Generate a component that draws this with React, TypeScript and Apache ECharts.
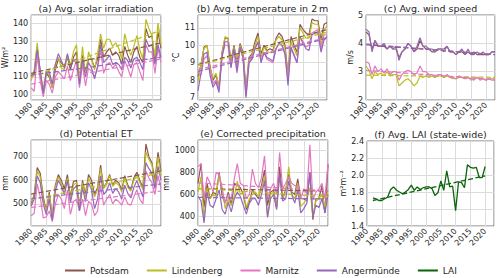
import React, { useEffect, useRef } from 'react';
import * as echarts from 'echarts';

const years = [1980, 1981, 1982, 1983, 1984, 1985, 1986, 1987, 1988, 1989, 1990, 1991, 1992, 1993, 1994, 1995, 1996, 1997, 1998, 1999, 2000, 2001, 2002, 2003, 2004, 2005, 2006, 2007, 2008, 2009, 2010, 2011, 2012, 2013, 2014, 2015, 2016, 2017, 2018, 2019, 2020, 2021, 2022, 2023];
const laiYears = [1982, 1983, 1984, 1985, 1986, 1987, 1988, 1989, 1990, 1991, 1992, 1993, 1994, 1995, 1996, 1997, 1998, 1999, 2000, 2001, 2002, 2003, 2004, 2005, 2006, 2007, 2008, 2009, 2010, 2011, 2012, 2013, 2014, 2015, 2016, 2017, 2018, 2019, 2020];
const trendYears = [1980, 2023];
const laiTrendYears = [1982, 2020];

const stations = ['Potsdam', 'Lindenberg', 'Marnitz', 'Angermünde'];
const stationColors = ['#8c564b', '#bcbd22', '#e377c2', '#9467bd'];
const laiColor = '#0a640a';

// (a) solar irradiation W/m²
const solarPotsdam = [110, 112, 127, 112, 101, 112, 110, 104, 114, 120, 118, 116, 121, 114, 121, 124, 109, 122, 113, 120, 120, 115, 120, 131, 121, 124, 126, 122, 124, 122, 117, 127, 122, 118, 124, 127, 121, 118, 137, 132, 133, 119, 135, 126];
const solarLindenberg = [108, 114, 129, 112, 103, 113, 111, 104, 117, 121, 115, 114, 122, 116, 124, 128, 108, 127, 110, 124, 120, 114, 123, 134, 126, 131, 131, 127, 129, 126, 120, 134, 127, 122, 127, 133, 125, 120, 142, 137, 133, 121, 140, 128];
const solarMarnitz = [104, 102, 122, 108, 99, 108, 106, 101, 110, 113, 111, 109, 116, 108, 114, 119, 104, 117, 105, 115, 113, 110, 115, 125, 112, 117, 118, 115, 117, 113, 110, 119, 115, 110, 117, 118, 113, 108, 128, 124, 124, 112, 126, 118];
const solarAngermuende = [111, 112, 125, 114, 101, 113, 113, 106, 117, 123, 119, 115, 123, 116, 119, 120, 106, 120, 110, 118, 115, 109, 116, 128, 118, 120, 122, 117, 118, 117, 114, 121, 119, 115, 120, 121, 118, 114, 131, 127, 128, 117, 128, 121];
const solarTrendStart = [112, 110, 106, 111];
const solarTrendEnd = [129, 136, 120, 121];

// (b) temperature °C
const tempPotsdam = [8.2, 8.9, 9.9, 10.0, 8.8, 8.0, 8.3, 7.6, 9.6, 10.4, 10.4, 9.1, 10.0, 9.0, 10.1, 9.6, 7.5, 9.3, 9.5, 10.2, 10.7, 9.5, 10.0, 9.7, 9.8, 9.7, 10.4, 10.7, 10.5, 10.0, 8.3, 10.5, 10.0, 9.6, 11.2, 10.9, 10.7, 10.6, 11.5, 11.4, 11.4, 10.3, 11.2, 11.3];
const tempLindenberg = [7.9, 8.9, 9.8, 10.0, 8.7, 8.1, 8.4, 7.6, 9.5, 10.5, 10.4, 9.0, 9.9, 8.8, 10.0, 9.5, 7.4, 9.2, 9.4, 10.0, 10.5, 9.3, 9.9, 9.6, 9.6, 9.6, 10.3, 10.5, 10.3, 9.8, 8.2, 10.2, 9.8, 9.4, 11.0, 10.7, 10.4, 10.4, 11.3, 11.2, 11.2, 10.0, 10.9, 11.1];
const tempMarnitz = [8.4, 8.3, 9.2, 9.4, 8.6, 7.8, 8.0, 7.5, 9.4, 10.0, 10.0, 8.8, 9.7, 8.4, 9.8, 9.3, 7.1, 9.0, 9.3, 9.8, 10.2, 9.1, 9.6, 9.2, 9.1, 9.0, 9.8, 10.1, 10.0, 9.5, 8.0, 9.8, 9.5, 9.0, 10.5, 10.2, 9.9, 10.0, 10.7, 10.8, 10.9, 9.8, 10.6, 10.6];
const tempAngermuende = [7.4, 8.4, 9.5, 9.6, 8.3, 7.6, 7.9, 7.3, 9.3, 10.2, 10.2, 8.7, 9.8, 8.5, 9.9, 9.3, 7.0, 9.0, 9.2, 9.8, 10.2, 9.0, 9.6, 9.3, 9.2, 9.1, 9.8, 10.1, 10.0, 9.5, 7.7, 9.9, 9.4, 9.0, 10.5, 10.1, 9.8, 9.7, 10.6, 10.7, 10.7, 9.6, 10.3, 10.5];
const tempTrendStart = [8.9, 8.85, 8.6, 8.5];
const tempTrendEnd = [10.9, 10.75, 10.45, 10.4];

// (c) wind speed m/s
const windPotsdam = [4.4, 4.3, 3.8, 4.1, 3.9, 3.9, 3.9, 3.8, 3.9, 3.8, 3.8, 3.5, 3.7, 3.8, 4.0, 3.9, 3.7, 3.8, 4.1, 3.9, 3.8, 3.8, 3.7, 3.7, 3.8, 3.8, 3.8, 3.9, 3.7, 3.7, 3.6, 3.7, 3.7, 3.6, 3.7, 3.6, 3.7, 3.6, 3.6, 3.6, 3.6, 3.6, 3.7, 3.7];
const windLindenberg = [3.2, 3.05, 2.75, 3.0, 2.9, 2.95, 2.85, 3.0, 2.85, 2.9, 2.9, 2.5, 2.6, 2.7, 2.75, 2.65, 2.5, 2.6, 2.85, 2.8, 2.85, 2.8, 2.85, 2.8, 2.85, 2.85, 2.8, 2.85, 2.8, 2.75, 2.75, 2.8, 2.8, 2.75, 2.8, 2.7, 2.75, 2.8, 2.75, 2.75, 2.7, 2.75, 2.75, 2.8];
const windMarnitz = [3.35, 3.3, 2.9, 3.2, 3.0, 3.1, 2.95, 3.1, 2.9, 3.0, 3.0, 2.7, 2.9, 3.0, 3.05, 3.0, 2.9, 2.95, 3.2, 3.0, 3.0, 2.9, 2.9, 2.8, 2.9, 2.9, 2.8, 2.9, 2.8, 2.8, 2.75, 2.85, 2.8, 2.75, 2.8, 2.75, 2.7, 2.8, 2.7, 2.75, 2.7, 2.75, 2.7, 2.7];
const windAngermuende = [4.5, 4.4, 3.7, 4.1, 3.9, 3.9, 4.0, 3.8, 3.9, 3.8, 3.9, 3.4, 3.7, 3.8, 4.0, 3.9, 3.7, 3.9, 4.2, 3.9, 3.9, 3.8, 3.8, 3.7, 3.8, 3.8, 3.7, 3.9, 3.7, 3.7, 3.6, 3.7, 3.8, 3.6, 3.8, 3.6, 3.6, 3.7, 3.6, 3.7, 3.6, 3.6, 3.7, 3.7];
const windTrendStart = [3.95, 2.88, 3.05, 3.97];
const windTrendEnd = [3.6, 2.8, 2.72, 3.6];

// (d) potential ET mm
const etPotsdam = [500, 540, 655, 630, 530, 470, 550, 440, 580, 625, 600, 565, 625, 530, 595, 600, 490, 600, 540, 625, 600, 540, 570, 665, 570, 590, 625, 580, 600, 590, 560, 620, 580, 560, 610, 635, 600, 570, 755, 700, 675, 600, 720, 640];
const etLindenberg = [495, 530, 640, 615, 515, 470, 540, 450, 570, 615, 585, 550, 610, 520, 580, 590, 485, 590, 530, 610, 580, 530, 560, 650, 565, 585, 620, 575, 590, 580, 550, 610, 570, 555, 600, 625, 590, 560, 720, 690, 665, 580, 700, 620];
const etMarnitz = [450, 460, 585, 530, 440, 445, 470, 425, 500, 540, 520, 480, 560, 455, 510, 520, 470, 520, 450, 510, 500, 450, 470, 580, 495, 520, 540, 500, 520, 510, 495, 530, 500, 495, 530, 560, 520, 500, 640, 610, 590, 540, 620, 565];
const etAngermuende = [490, 520, 620, 590, 500, 455, 520, 430, 555, 600, 575, 540, 600, 505, 565, 575, 470, 570, 510, 590, 560, 480, 520, 620, 540, 555, 590, 545, 565, 550, 520, 580, 545, 525, 570, 600, 565, 530, 675, 650, 630, 565, 660, 600];
const etTrendStart = [542, 518, 485, 522];
const etTrendEnd = [640, 632, 555, 585];

// (e) corrected precipitation mm
const precPotsdam = [700, 880, 480, 700, 560, 620, 600, 800, 580, 520, 620, 500, 700, 680, 660, 600, 460, 530, 640, 600, 560, 680, 820, 500, 620, 640, 480, 850, 560, 640, 780, 620, 600, 740, 560, 560, 540, 800, 370, 560, 560, 680, 430, 870];
const precLindenberg = [620, 760, 380, 650, 560, 600, 580, 780, 660, 470, 560, 500, 580, 720, 600, 620, 480, 560, 600, 620, 580, 650, 760, 400, 600, 620, 480, 760, 560, 620, 850, 600, 560, 700, 490, 520, 560, 660, 400, 540, 560, 600, 480, 640];
const precMarnitz = [850, 880, 560, 760, 700, 620, 800, 780, 640, 520, 600, 560, 740, 880, 700, 680, 560, 600, 830, 700, 660, 750, 950, 560, 650, 700, 600, 980, 650, 700, 760, 700, 680, 680, 560, 650, 600, 1050, 550, 620, 650, 700, 560, 880];
const precAngermuende = [580, 540, 340, 620, 500, 480, 560, 640, 460, 420, 530, 440, 560, 620, 580, 500, 420, 520, 560, 560, 500, 600, 720, 390, 560, 600, 460, 780, 540, 560, 720, 600, 520, 640, 430, 470, 520, 800, 400, 500, 480, 560, 430, 600];
const precTrendStart = [652, 655, 705, 572];
const precTrendEnd = [630, 578, 630, 558];

// (f) LAI m²m⁻²
const laiValues = [1.73, 1.72, 1.70, 1.70, 1.72, 1.74, 1.83, 1.86, 1.82, 1.80, 1.78, 1.80, 1.83, 1.88, 1.82, 1.86, 1.83, 1.85, 1.86, 1.86, 1.84, 1.76, 1.79, 1.93, 1.82, 2.05, 1.86, 1.87, 1.58, 1.92, 1.91, 1.85, 2.12, 2.09, 2.08, 2.09, 1.97, 1.97, 2.10];
const laiTrend = [1.70, 1.99];

const FONT = 'DejaVu Sans';
const TEXT = '#262626';

type Panel = {
  title: string; unit: string; data: number[][] | null; ts: number[] | null; te: number[] | null;
  yMin: number; yMax: number; split: number; step: number; digits: number;
  left: number; top: number; width: number; height: number; nameGap: number;
};

const panels: Panel[] = [
  { title: '(a) Avg. solar irradiation', unit: 'W/m²', data: [solarPotsdam, solarLindenberg, solarMarnitz, solarAngermuende], ts: solarTrendStart, te: solarTrendEnd, yMin: 97.2, yMax: 144.5, split: 5, step: 10, digits: 0, left: 31, top: 15, width: 130, height: 85, nameGap: 18 },
  { title: '(b) Avg. temperature in 2\u2009m', unit: '°C', data: [tempPotsdam, tempLindenberg, tempMarnitz, tempAngermuende], ts: tempTrendStart, te: tempTrendEnd, yMin: 6.87, yMax: 11.73, split: 5, step: 1, digits: 0, left: 198, top: 15, width: 129, height: 85, nameGap: 10 },
  { title: '(c) Avg. wind speed', unit: 'm/s', data: [windPotsdam, windLindenberg, windMarnitz, windAngermuende], ts: windTrendStart, te: windTrendEnd, yMin: 2, yMax: 5, split: 3, step: 1, digits: 0, left: 366, top: 15, width: 129, height: 85, nameGap: 11 },
  { title: '(d) Potential ET', unit: 'mm', data: [etPotsdam, etLindenberg, etMarnitz, etAngermuende], ts: etTrendStart, te: etTrendEnd, yMin: 406, yMax: 772, split: 4, step: 100, digits: 0, left: 31, top: 140, width: 130, height: 86, nameGap: 20 },
  { title: '(e) Corrected precipitation', unit: 'mm', data: [precPotsdam, precLindenberg, precMarnitz, precAngermuende], ts: precTrendStart, te: precTrendEnd, yMin: 312, yMax: 1094, split: 4, step: 200, digits: 0, left: 198, top: 140, width: 130, height: 86, nameGap: 15 },
  { title: '(f) Avg. LAI (state-wide)', unit: 'm²m⁻²', data: null, ts: null, te: null, yMin: 1.4, yMax: 2.4, split: 5, step: 0.2, digits: 1, left: 367, top: 141, width: 127, height: 85, nameGap: 18 },
];

function buildOption() {
  const grid: any[] = [];
  const xAxis: any[] = [];
  const yAxis: any[] = [];
  const series: any[] = [];
  const graphic: any[] = [];

  panels.forEach((p, i) => {
    grid.push({ left: p.left, top: p.top, width: p.width, height: p.height, show: true, borderColor: '#555', borderWidth: 0.8, backgroundColor: 'transparent' });
    xAxis.push({
      type: 'value', gridIndex: i, min: 1980, max: 2023, interval: 5,
      axisLine: { show: false }, axisTick: { show: false },
      splitLine: { show: true, lineStyle: { color: '#dcdcdc', width: 1 } },
      axisLabel: { rotate: 45, fontSize: 8, fontFamily: FONT, color: TEXT, margin: 4, formatter: (v: number) => (v % 5 === 0 ? String(v) : '') },
    });
    yAxis.push({
      type: 'value', gridIndex: i, min: p.yMin, max: p.yMax, splitNumber: p.split,
      name: p.unit, nameLocation: 'middle', nameRotate: 90, nameGap: p.nameGap,
      nameTextStyle: { fontSize: 8, fontFamily: FONT, color: TEXT },
      axisLine: { show: false }, axisTick: { show: false },
      splitLine: { show: true, lineStyle: { color: '#dcdcdc', width: 1 } },
      axisLabel: {
        fontSize: 8, fontFamily: FONT, color: TEXT, margin: 3,
        formatter: (v: number) => {
          const r = v / p.step;
          return Math.abs(r - Math.round(r)) < 1e-6 ? v.toFixed(p.digits) : '';
        },
      },
    });
    graphic.push({ type: 'text', x: p.left + p.width / 2, y: p.top - 7, style: { text: p.title, fontSize: 9.5, fontFamily: FONT, fill: TEXT, textAlign: 'center', textVerticalAlign: 'middle' } });

    if (p.data) {
      p.data.forEach((vals, s) => {
        series.push({
          type: 'line', name: stations[s], xAxisIndex: i, yAxisIndex: i, symbol: 'none',
          data: years.map((y, k) => [y, vals[k]]),
          lineStyle: { color: stationColors[s], width: 1.2 }, itemStyle: { color: stationColors[s] },
        });
      });
      p.data.forEach((_, s) => {
        series.push({
          type: 'line', name: stations[s] + ' trend', xAxisIndex: i, yAxisIndex: i, symbol: 'none',
          data: [[trendYears[0], p.ts![s]], [trendYears[1], p.te![s]]],
          lineStyle: { color: stationColors[s], width: 1.2, type: [5, 2.5] }, itemStyle: { color: stationColors[s] },
        });
      });
    } else {
      series.push({
        type: 'line', name: 'LAI', xAxisIndex: i, yAxisIndex: i, symbol: 'none',
        data: laiYears.map((y, k) => [y, laiValues[k]]),
        lineStyle: { color: laiColor, width: 1.3 }, itemStyle: { color: laiColor },
      });
      series.push({
        type: 'line', name: 'LAI trend', xAxisIndex: i, yAxisIndex: i, symbol: 'none',
        data: [[laiTrendYears[0], laiTrend[0]], [laiTrendYears[1], laiTrend[1]]],
        lineStyle: { color: laiColor, width: 1.3, type: [5, 2.5] }, itemStyle: { color: laiColor },
      });
    }
  });

  return {
    animation: false,
    backgroundColor: '#fff',
    textStyle: { fontFamily: FONT },
    grid, xAxis, yAxis, series, graphic,
    legend: {
      data: [...stations, 'LAI'].map((n) => ({ name: n, icon: 'rect' })),
      left: 60, top: 261, itemWidth: 20, itemHeight: 2, itemGap: 18,
      textStyle: { fontSize: 9, fontFamily: FONT, color: TEXT },
    },
  };
}

export default function App() {
  const ref = useRef<HTMLDivElement>(null);
  useEffect(() => {
    if (!ref.current) return;
    const chart = echarts.init(ref.current, undefined, { renderer: 'svg' });
    chart.setOption(buildOption() as any);
    return () => chart.dispose();
  }, []);
  return <div ref={ref} style={{ position: 'absolute', left: 0, top: 0, width: 500, height: 278 }} />;
}
